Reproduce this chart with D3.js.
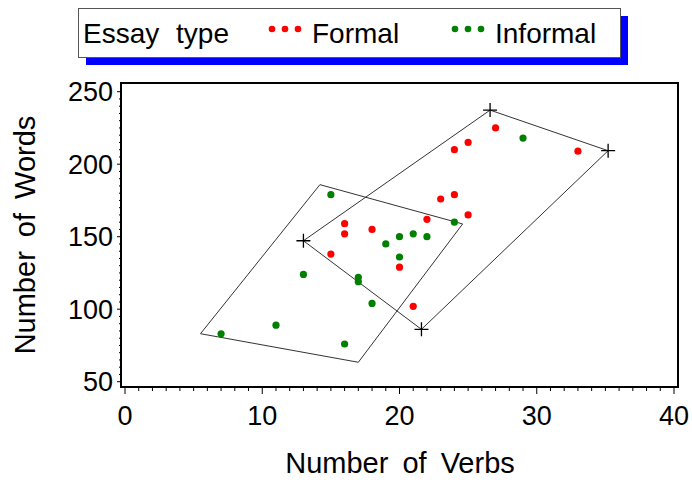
<!DOCTYPE html>
<html>
<head>
<meta charset="utf-8">
<script src="https://cdn.jsdelivr.net/npm/d3@7"></script>
<style>
  body { margin: 0; background: #fff; }
  svg text { font-family: "Liberation Sans", Arial, sans-serif; fill: #000; }
</style>
</head>
<body>
<svg id="chart" width="692" height="480"></svg>
<script>
// essay data
var formalVerbs = [15, 16, 16, 18, 20, 21, 22, 23, 24, 24, 25, 25, 27, 33];
var formalWords = [138, 159, 152, 155, 129, 102, 162, 176, 179, 210, 215, 165, 225, 209];
var informalVerbs = [15, 20, 21, 22, 24, 29, 19, 20, 13, 17, 17, 18, 11, 7, 16];
var informalWords = [179, 150, 152, 150, 160, 218, 145, 136, 124, 122, 119, 104, 89, 83, 76];

// outline corners (verbs, words)
var formalHullVerbs = [13.0, 26.6, 35.2, 21.6];
var formalHullWords = [147.2, 237.3, 209.3, 86.1];
var informalHullVerbs = [14.2, 24.6, 17.0, 5.5];
var informalHullWords = [185.9, 158.8, 63.4, 83.1];

var xTicks = [0, 10, 20, 30, 40];
var yTicks = [50, 100, 150, 200, 250];
var legendTitle = 'Essay type';
var groups = ['Formal', 'Informal'];
var groupColors = ['#ff0000', '#008000'];

var svg = d3.select('#chart');

var x = d3.scaleLinear().domain([0, 40]).range([125, 674]);
var y = d3.scaleLinear().domain([50, 250]).range([381.7, 91.7]);

var frame = {left: 121, top: 83, right: 678, bottom: 387};

// frame
svg.append('rect')
  .attr('x', frame.left).attr('y', frame.top)
  .attr('width', frame.right - frame.left).attr('height', frame.bottom - frame.top)
  .attr('fill', 'none').attr('stroke', '#000').attr('stroke-width', 2);

// x axis
var xAxis = svg.append('g').attr('transform', 'translate(0,' + frame.bottom + ')');
xAxis.selectAll('line.minor')
  .data(d3.range(0, 41, 1))
  .enter().append('line')
  .attr('x1', function(d){ return x(d); }).attr('x2', function(d){ return x(d); })
  .attr('y1', 0).attr('y2', function(d){ return xTicks.indexOf(d) >= 0 ? 7 : 4; })
  .attr('stroke', '#000').attr('stroke-width', 1);
xAxis.selectAll('text')
  .data(xTicks)
  .enter().append('text')
  .attr('x', function(d){ return x(d); })
  .attr('y', 38)
  .attr('text-anchor', 'middle')
  .attr('font-size', 27)
  .text(function(d){ return d; });

// y axis
var yAxis = svg.append('g').attr('transform', 'translate(' + frame.left + ',0)');
yAxis.selectAll('line')
  .data(d3.range(50, 251, 5))
  .enter().append('line')
  .attr('y1', function(d){ return y(d); }).attr('y2', function(d){ return y(d); })
  .attr('x1', 0).attr('x2', function(d){ return yTicks.indexOf(d) >= 0 ? -4 : -2; })
  .attr('stroke', '#000').attr('stroke-width', 1);
yAxis.selectAll('text')
  .data(yTicks)
  .enter().append('text')
  .attr('x', -8)
  .attr('y', function(d){ return y(d); })
  .attr('dy', '0.36em')
  .attr('text-anchor', 'end')
  .attr('font-size', 27)
  .text(function(d){ return d; });

svg.append('text')
  .attr('x', 400).attr('y', 473)
  .attr('text-anchor', 'middle')
  .attr('font-size', 29)
  .attr('word-spacing', 6)
  .text('Number of Verbs');

svg.append('text')
  .attr('transform', 'translate(35,235) rotate(-90)')
  .attr('text-anchor', 'middle')
  .attr('font-size', 29)
  .attr('word-spacing', 6)
  .text('Number of Words');

// outlines
var line = d3.line()
  .x(function(d){ return x(d[0]); })
  .y(function(d){ return y(d[1]); })
  .curve(d3.curveLinearClosed);

var formalHull = d3.zip(formalHullVerbs, formalHullWords);
var informalHull = d3.zip(informalHullVerbs, informalHullWords);

svg.selectAll('path.hull')
  .data([formalHull, informalHull])
  .enter().append('path')
  .attr('class', 'hull')
  .attr('d', line)
  .attr('fill', 'none')
  .attr('stroke', '#333')
  .attr('stroke-width', 1);

// plus markers at the formal corners
svg.selectAll('path.plus')
  .data(formalHull)
  .enter().append('path')
  .attr('class', 'plus')
  .attr('d', function(d){
    var cx = x(d[0]), cy = y(d[1]);
    return 'M' + (cx - 7) + ',' + cy + 'H' + (cx + 7) + 'M' + cx + ',' + (cy - 7) + 'V' + (cy + 7);
  })
  .attr('stroke', '#000')
  .attr('stroke-width', 1.3);

// points
var formal = d3.zip(formalVerbs, formalWords);
var informal = d3.zip(informalVerbs, informalWords);

[formal, informal].forEach(function(pts, i){
  svg.append('g').selectAll('circle')
    .data(pts)
    .enter().append('circle')
    .attr('cx', function(d){ return x(d[0]); })
    .attr('cy', function(d){ return y(d[1]); })
    .attr('r', 3.6)
    .attr('fill', groupColors[i]);
});

// legend
var legend = svg.append('g');
legend.append('rect')
  .attr('x', 86).attr('y', 16).attr('width', 542).attr('height', 49)
  .attr('fill', '#0000ff');
legend.append('rect')
  .attr('x', 78.5).attr('y', 8.5).attr('width', 542).attr('height', 49)
  .attr('fill', '#fff').attr('stroke', '#555').attr('stroke-width', 1);
legend.append('text')
  .attr('x', 83).attr('y', 43)
  .attr('font-size', 28)
  .attr('word-spacing', 9)
  .text(legendTitle);

var legendX = [272, 455];
groups.forEach(function(g, i){
  legend.selectAll('circle.g' + i)
    .data([0, 1, 2])
    .enter().append('circle')
    .attr('cx', function(k){ return legendX[i] + k * 13; })
    .attr('cy', 29)
    .attr('r', 3.3)
    .attr('fill', groupColors[i]);
  legend.append('text')
    .attr('x', legendX[i] + 40).attr('y', 43)
    .attr('font-size', 28)
    .text(g);
});
</script>
</body>
</html>
